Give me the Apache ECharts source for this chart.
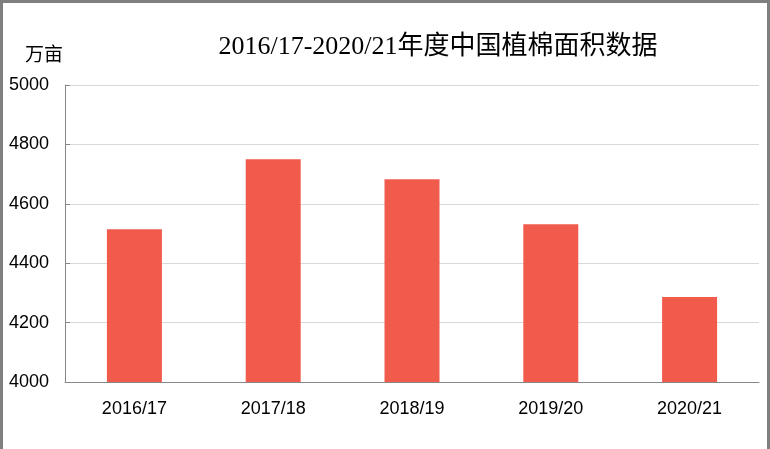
<!DOCTYPE html>
<html>
<head>
<meta charset="utf-8">
<script src="https://cdn.jsdelivr.net/npm/echarts@6/dist/echarts.min.js"></script>
<style>
  html, body { margin: 0; padding: 0; background: #fff; }
  #chart {
    width: 770px;
    height: 449px;
    box-sizing: border-box;
    border-top: 3px solid #7f7f7f;
    border-left: 3px solid #7f7f7f;
    border-right: 3px solid #7f7f7f;
  }
</style>
</head>
<body>
<div id="chart"></div>
<script>
  // 年度（类目）
  const seasons = ['2016/17', '2017/18', '2018/19', '2019/20', '2020/21']
  // 植棉面积，万亩
  const plantedArea = [4514, 4750, 4683, 4531, 4286]
  // y 轴刻度
  const yMin = 4000
  const yMax = 5000
  const yStep = 200

  const chart = echarts.init(document.getElementById('chart'))
  chart.setOption({
    animation: false,
    title: {
      text: '2016/17-2020/21年度中国植棉面积数据',
      left: 430,
      top: 26,
      textAlign: 'center',
      textStyle: {
        fontFamily: '"Liberation Serif", "Noto Sans CJK SC", serif',
        fontSize: 26,
        fontWeight: 'normal',
        color: '#000',
      },
    },
    grid: {
      left: 62,
      right: 8,
      top: 82,
      bottom: 67,
    },
    xAxis: {
      type: 'category',
      data: seasons,
      axisLine: { lineStyle: { color: '#868686', width: 1 } },
      axisTick: { inside: true, length: 6, lineStyle: { color: '#868686' } },
      axisLabel: {
        color: '#000',
        fontSize: 18,
        fontFamily: '"Liberation Sans", "Noto Sans", sans-serif',
        margin: 18,
      },
    },
    yAxis: {
      type: 'value',
      name: '万亩',
      nameLocation: 'end',
      nameGap: 22,
      nameTextStyle: {
        color: '#000',
        fontSize: 19,
        fontFamily: '"Noto Sans CJK SC", sans-serif',
        align: 'center',
        padding: [0, 0, 0, -42],
      },
      min: yMin,
      max: yMax,
      interval: yStep,
      axisLine: { show: true, lineStyle: { color: '#868686', width: 1 } },
      axisTick: { show: true, inside: true, length: 5, lineStyle: { color: '#868686' } },
      axisLabel: {
        color: '#000',
        fontSize: 18,
        fontFamily: '"Liberation Sans", "Noto Sans", sans-serif',
        margin: 16,
        formatter: (v) => String(v),
      },
      splitLine: { lineStyle: { color: '#d9d9d9', width: 1 } },
    },
    series: [
      {
        type: 'bar',
        data: plantedArea,
        barWidth: 55,
        itemStyle: { color: '#f15b4c' },
      },
    ],
  })
</script>
</body>
</html>
